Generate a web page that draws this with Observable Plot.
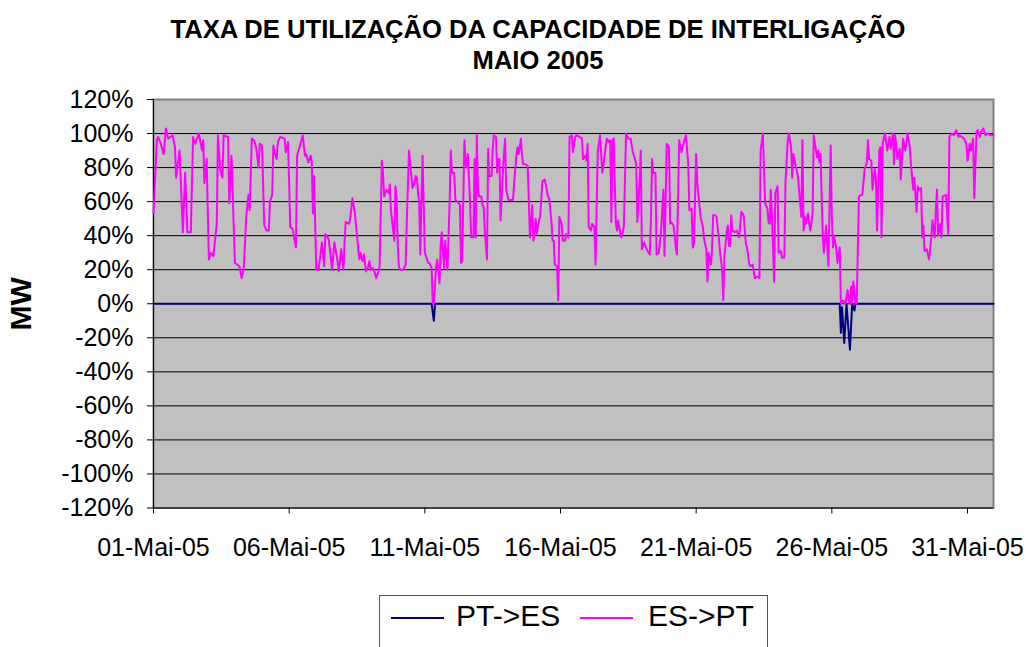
<!DOCTYPE html>
<html>
<head>
<meta charset="utf-8">
<script src="https://cdn.jsdelivr.net/npm/d3@7"></script>
<script src="https://cdn.jsdelivr.net/npm/@observablehq/plot@0.6"></script>
<style>
  html, body { margin: 0; padding: 0; background: #ffffff; }
  #wrap { position: relative; width: 1028px; height: 647px; overflow: hidden; font-family: "Liberation Sans", Arial, sans-serif; color: #000; }
  #title { box-sizing: border-box; width: 1028px; height: 88px; padding-top: 14px; padding-left: 48px; text-align: center; font-weight: bold; font-size: 25.6px; line-height: 31px; }
  #chart svg { display: block; }
  #legend { position: absolute; left: 379px; top: 595px; width: 389px; height: 70px; box-sizing: border-box; border: 1px solid #555; background: #fff; }
  .sw { position: absolute; height: 2px; top: 21px; }
  .lt { position: absolute; top: 4px; font-size: 30px; line-height: 32px; white-space: nowrap; }
</style>
</head>
<body>
<div id="wrap">
  <div id="title"></div>
  <div id="chart"></div>
  <div id="legend"></div>
</div>
<script>
// ---------- data ----------
const titleLines = ["TAXA DE UTILIZAÇÃO DA CAPACIDADE DE INTERLIGAÇÃO", "MAIO 2005"];
const yTitle = "MW";
const seriesNames = ["PT->ES", "ES->PT"];
const seriesColors = ["#000080", "#ff00ff"];

// y ticks (percent)
const yTicks = [-120, -100, -80, -60, -40, -20, 0, 20, 40, 60, 80, 100, 120];
// x ticks: day of May 2005 and their labels
const xTickDays = [1, 6, 11, 16, 21, 26, 31];
const xTickLabels = ["01-Mai-05", "06-Mai-05", "11-Mai-05", "16-Mai-05", "21-Mai-05", "26-Mai-05", "31-Mai-05"];
const lastHour = 743; // 31 May 23:00

// ES->PT : hour since 01-May 00:00, utilisation %
const esHours = [0,3,4,6,9,11,13,17,19,20,23,26,28,30,33,35,37,40,43,44,45,47,49,51,53,56,57,59,61,62,66,67,69,72,76,78,80,82,84,85,86,87,89,91,93,94,96,98,100,102,103,105,106,107,109,110,112,116,117,119,121,123,126,127,130,132,134,135,137,139,140,141,142,144,146,149,151,152,155,158,160,163,164,166,168,169,170,173,174,176,178,179,182,183,185,186,188,190,191,192,194,195,197,199,200,202,203,204,206,208,209,210,212,213,214,215,216,217,218,221,223,224,226,227,229,230,232,233,234,235,236,237,238,240,241,243,244,246,247,248,250,251,253,254,255,257,258,260,262,263,264,266,267,269,271,272,273,275,276,277,278,280,281,282,283,284,285,286,287,288,290,291,292,293,295,296,297,299,300,301,303,304,305,306,307,309,310,311,312,314,316,318,319,321,322,323,325,326,327,329,331,333,335,336,337,338,339,341,342,344,346,347,349,350,352,353,354,355,357,358,359,361,362,364,365,367,368,370,371,373,374,377,379,380,382,383,384,385,387,388,390,391,392,393,395,397,398,399,401,403,404,405,406,407,409,410,411,413,414,416,418,420,422,424,425,427,428,430,431,432,434,435,437,439,440,441,442,444,445,447,449,451,452,454,456,457,458,460,462,463,465,467,468,470,471,473,474,476,477,478,480,481,483,484,486,487,489,490,491,493,494,495,497,498,500,501,503,504,505,507,508,509,510,511,512,514,516,518,520,522,524,525,527,528,530,532,534,536,537,539,541,543,544,545,546,547,549,550,552,553,555,556,558,559,561,562,564,565,566,568,570,571,573,574,575,576,577,579,580,581,583,584,586,587,588,589,590,592,593,595,597,599,600,601,602,604,605,607,608,610,612,614,615,616,617,618,619,621,622,624,626,627,629,631,632,633,635,636,638,639,640,642,643,644,645,647,649,650,651,652,654,655,656,657,658,660,661,663,665,667,669,670,672,673,675,676,677,679,680,681,682,684,686,688,689,691,692,693,694,696,697,698,701,703,704,706,708,710,712,713,715,717,719,720,722,723,725,726,728,729,731,732,734,736,738,740,743];
const esValues = [53,96,98,95,88,103,97,99,92,74,90,42,77,42,42,98,94,100,90,96,71,85,26,30,28,47,99,79,74,99,98,59,87,24,22,15,22,51,64,55,75,97,96,91,80,94,93,46,43,43,60,64,93,89,85,95,98,97,89,95,45,44,33,87,94,99,87,88,83,87,83,53,75,20,20,36,22,41,38,20,36,24,19,32,20,36,48,47,50,62,54,47,26,30,25,29,19,22,25,20,21,20,15,19,22,84,77,63,67,65,70,55,43,37,69,63,36,22,20,20,23,47,90,83,68,69,75,74,65,60,29,59,87,30,28,24,24,21,0,0,22,26,12,35,42,21,37,20,61,90,77,77,61,60,58,24,25,96,84,80,88,60,39,39,39,85,39,99,67,63,63,58,57,43,26,91,75,75,90,99,98,77,85,85,49,77,88,97,67,61,61,61,71,87,92,88,97,87,82,82,81,39,58,37,41,50,41,49,51,72,73,70,63,62,48,37,37,23,22,2,51,47,37,37,41,39,98,99,89,98,99,98,97,85,87,84,94,45,43,47,45,23,57,90,99,77,81,87,97,95,96,48,96,97,47,43,49,41,39,45,100,97,97,89,87,82,48,73,90,32,36,34,31,29,49,85,77,77,29,30,43,67,28,94,92,47,48,46,33,29,96,89,92,97,99,82,55,56,33,35,88,71,57,51,45,38,32,13,30,23,31,52,52,51,39,31,20,2,28,42,46,34,34,52,43,42,43,39,54,52,35,33,23,22,23,15,16,15,90,100,59,56,48,47,67,52,13,65,69,30,31,27,27,71,96,100,92,74,88,81,75,67,51,96,43,51,47,53,47,43,53,99,90,86,90,83,88,39,30,46,22,93,51,33,40,32,24,33,0,2,0,8,2,0,10,0,13,0,0,63,64,64,79,83,96,85,84,67,79,74,43,90,92,39,94,100,90,94,98,91,100,82,99,93,85,91,73,97,90,100,92,82,67,74,54,69,67,68,39,46,31,32,26,39,49,39,55,67,40,47,39,63,64,41,98,100,99,102,98,99,98,97,94,84,94,90,97,62,101,102,98,101,103,99,100,99,99];

// PT->ES : hour since 01-May 00:00, utilisation % (negative direction)
const ptHours = [0,246,248,249,607,608,609,611,613,616,618,620,621,743];
const ptValues = [0,0,-10,0,0,-17,-2,-23,0,-27,0,-4,0,0];

// ---------- build ----------
const t0 = Date.UTC(2005, 4, 1, 0);
const hourDate = h => new Date(t0 + h * 3600e3);
const esData = esHours.map((h, i) => ({date: hourDate(h), v: esValues[i]}));
const ptData = ptHours.map((h, i) => ({date: hourDate(h), v: ptValues[i]}));
const xTicks = xTickDays.map(d => new Date(Date.UTC(2005, 4, d)));
const labelOf = new Map(xTicks.map((d, i) => [+d, xTickLabels[i]]));
const gridVals = yTicks.filter(v => v !== yTicks[0] && v !== yTicks[yTicks.length - 1]);

document.getElementById("title").innerHTML = titleLines.join("<br>");

const chart = Plot.plot({
  width: 1028,
  height: 500,
  marginLeft: 153,
  marginRight: 35,
  marginTop: 11,
  marginBottom: 80.5,
  style: {fontFamily: '"Liberation Sans", Arial, sans-serif', color: "#000", background: "transparent", overflow: "visible"},
  x: {type: "utc", domain: [hourDate(0), hourDate(lastHour)]},
  y: {domain: [yTicks[0], yTicks[yTicks.length - 1]]},
  marks: [
    Plot.frame({fill: "#c0c0c0", stroke: "#808080", strokeWidth: 2}),
    Plot.ruleY(gridVals, {stroke: "#000", strokeWidth: 1}),
    Plot.ruleY([yTicks[0]], {stroke: "#000", strokeWidth: 1}),
    Plot.ruleX([hourDate(0)], {stroke: "#000", strokeWidth: 1}),
    Plot.line(ptData, {x: "date", y: "v", stroke: seriesColors[0], strokeWidth: 2}),
    Plot.line(esData, {x: "date", y: "v", stroke: seriesColors[1], strokeWidth: 2}),
    Plot.axisY({ticks: yTicks, tickFormat: d => d + "%", tickSize: 6, tickPadding: 14, fontSize: 25, label: null}),
    Plot.axisX({ticks: xTicks, tickFormat: d => labelOf.get(+d), tickSize: 6, tickPadding: 24, fontSize: 25, label: null}),
    Plot.text([yTitle], {frameAnchor: "left", textAnchor: "middle", dx: -132, rotate: -90, fontSize: 30, fontWeight: "bold", fill: "#000"})
  ]
});
document.getElementById("chart").appendChild(chart);

// legend
const legend = document.getElementById("legend");
const swLeft = [11, 200];
const txtLeft = [76, 268];
seriesNames.forEach((name, i) => {
  const sw = document.createElement("div");
  sw.className = "sw";
  sw.style.left = swLeft[i] + "px";
  sw.style.width = "53px";
  sw.style.background = seriesColors[i];
  legend.appendChild(sw);
  const tx = document.createElement("div");
  tx.className = "lt";
  tx.style.left = txtLeft[i] + "px";
  tx.textContent = name;
  legend.appendChild(tx);
});
</script>
</body>
</html>
